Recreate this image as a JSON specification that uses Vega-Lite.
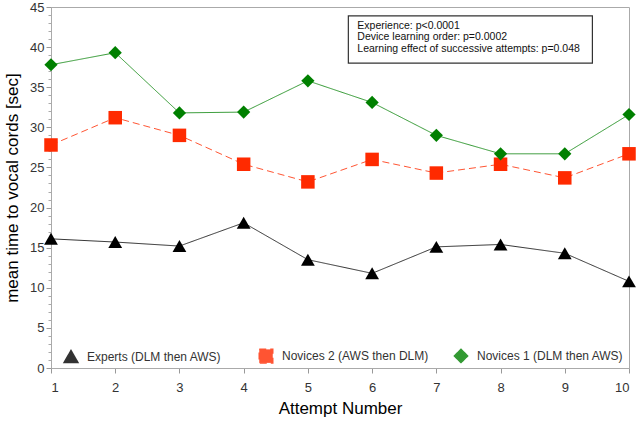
{
  "$schema": "https://vega.github.io/schema/vega-lite/v6.json",
  "autosize": "none",
  "width": 578,
  "height": 361,
  "padding": {"left": 51, "top": 7, "right": 9, "bottom": 56},
  "background": "white",
  "config": {
    "font": "Liberation Sans",
    "view": {"stroke": "#aaaaaa", "strokeWidth": 1}
  },
  "resolve": {"axis": {"y": "independent"}},
  "datasets": {
    "series": [
      {"attempt": 1, "group": "Experts (DLM then AWS)", "time": 16.1},
      {"attempt": 2, "group": "Experts (DLM then AWS)", "time": 15.7},
      {"attempt": 3, "group": "Experts (DLM then AWS)", "time": 15.2},
      {"attempt": 4, "group": "Experts (DLM then AWS)", "time": 18.1},
      {"attempt": 5, "group": "Experts (DLM then AWS)", "time": 13.5},
      {"attempt": 6, "group": "Experts (DLM then AWS)", "time": 11.8},
      {"attempt": 7, "group": "Experts (DLM then AWS)", "time": 15.1},
      {"attempt": 8, "group": "Experts (DLM then AWS)", "time": 15.4},
      {"attempt": 9, "group": "Experts (DLM then AWS)", "time": 14.3},
      {"attempt": 10, "group": "Experts (DLM then AWS)", "time": 10.8},
      {"attempt": 1, "group": "Novices 2 (AWS then DLM)", "time": 27.8},
      {"attempt": 2, "group": "Novices 2 (AWS then DLM)", "time": 31.2},
      {"attempt": 3, "group": "Novices 2 (AWS then DLM)", "time": 29.0},
      {"attempt": 4, "group": "Novices 2 (AWS then DLM)", "time": 25.4},
      {"attempt": 5, "group": "Novices 2 (AWS then DLM)", "time": 23.2},
      {"attempt": 6, "group": "Novices 2 (AWS then DLM)", "time": 26.0},
      {"attempt": 7, "group": "Novices 2 (AWS then DLM)", "time": 24.3},
      {"attempt": 8, "group": "Novices 2 (AWS then DLM)", "time": 25.4},
      {"attempt": 9, "group": "Novices 2 (AWS then DLM)", "time": 23.7},
      {"attempt": 10, "group": "Novices 2 (AWS then DLM)", "time": 26.7},
      {"attempt": 1, "group": "Novices 1 (DLM then AWS)", "time": 37.8},
      {"attempt": 2, "group": "Novices 1 (DLM then AWS)", "time": 39.3},
      {"attempt": 3, "group": "Novices 1 (DLM then AWS)", "time": 31.8},
      {"attempt": 4, "group": "Novices 1 (DLM then AWS)", "time": 31.9},
      {"attempt": 5, "group": "Novices 1 (DLM then AWS)", "time": 35.8},
      {"attempt": 6, "group": "Novices 1 (DLM then AWS)", "time": 33.1},
      {"attempt": 7, "group": "Novices 1 (DLM then AWS)", "time": 29.0},
      {"attempt": 8, "group": "Novices 1 (DLM then AWS)", "time": 26.7},
      {"attempt": 9, "group": "Novices 1 (DLM then AWS)", "time": 26.7},
      {"attempt": 10, "group": "Novices 1 (DLM then AWS)", "time": 31.6}
    ],
    "note": [
      {"text": "Experience: p<0.0001|Device learning order: p=0.0002|Learning effect of successive attempts: p=0.048"}
    ]
  },
  "layer": [
    {
      "data": {"values": [{}]},
      "mark": {"type": "rule", "opacity": 0},
      "encoding": {
        "y": {
          "datum": 0, "type": "quantitative",
          "axis": {
            "orient": "left", "title": null, "labels": false, "domain": false, "grid": false,
            "values": [0,1,2,3,4,5,6,7,8,9,10,11,12,13,14,15,16,17,18,19,20,21,22,23,24,25,26,27,28,29,30,31,32,33,34,35,36,37,38,39,40,41,42,43,44,45],
            "tickSize": 3, "tickColor": "#aaa"
          }
        }
      }
    },
    {
      "data": {"name": "series"},
      "mark": {"type": "line", "strokeWidth": 1, "opacity": 0.8},
      "encoding": {
        "x": {
          "field": "attempt", "type": "quantitative",
          "scale": {"domain": [1, 10], "nice": false, "zero": false},
          "axis": {
            "title": "Attempt Number", "titleFontSize": 17, "titleFontWeight": "normal", "titleColor": "#000",
            "titlePadding": 6,
            "values": [1, 2, 3, 4, 5, 6, 7, 8, 9, 10], "format": "d",
            "labelFontSize": 13, "labelColor": "#333", "labelPadding": 8,
            "tickSize": 5, "tickColor": "#999", "domainColor": "#aaa", "grid": false
          }
        },
        "y": {
          "field": "time", "type": "quantitative",
          "scale": {"domain": [0, 45], "nice": false},
          "axis": {
            "orient": "left",
            "title": "mean time to vocal cords [sec]", "titleFontSize": 17, "titleFontWeight": "normal", "titleColor": "#000",
            "titlePadding": 8,
            "values": [0, 5, 10, 15, 20, 25, 30, 35, 40, 45],
            "labelFontSize": 13, "labelColor": "#333", "labelPadding": 2,
            "tickSize": 5, "tickColor": "#999", "domainColor": "#aaa", "grid": false
          }
        },
        "color": {
          "field": "group", "type": "nominal",
          "scale": {
            "domain": ["Experts (DLM then AWS)", "Novices 2 (AWS then DLM)", "Novices 1 (DLM then AWS)"],
            "range": ["#000000", "#ff2a00", "#008000"]
          },
          "legend": {
            "title": null, "orient": "none", "legendX": 12, "legendY": 341,
            "direction": "horizontal", "columns": 3, "gridAlign": "all", "columnPadding": 22,
            "labelFontSize": 12, "labelColor": "#333", "labelOffset": 8, "symbolSize": 80
          }
        },
        "strokeDash": {
          "field": "group", "type": "nominal",
          "scale": {
            "domain": ["Experts (DLM then AWS)", "Novices 2 (AWS then DLM)", "Novices 1 (DLM then AWS)"],
            "range": [[1, 0], [7, 4], [1, 0]]
          },
          "legend": null
        }
      }
    },
    {
      "data": {"name": "series"},
      "mark": {"type": "point", "filled": true, "opacity": 1},
      "encoding": {
        "x": {"field": "attempt", "type": "quantitative"},
        "y": {"field": "time", "type": "quantitative", "axis": null},
        "color": {"field": "group", "type": "nominal"},
        "shape": {
          "field": "group", "type": "nominal",
          "scale": {
            "domain": ["Experts (DLM then AWS)", "Novices 2 (AWS then DLM)", "Novices 1 (DLM then AWS)"],
            "range": ["triangle-up", "square", "diamond"]
          },
          "legend": null
        },
        "size": {
          "field": "group", "type": "nominal",
          "scale": {
            "domain": ["Experts (DLM then AWS)", "Novices 2 (AWS then DLM)", "Novices 1 (DLM then AWS)"],
            "range": [190, 175, 150]
          },
          "legend": null
        }
      }
    },
    {
      "data": {"values": [{}]},
      "mark": {"type": "rect", "fill": "white", "stroke": "#333", "strokeWidth": 1.2},
      "encoding": {
        "x": {"datum": 5.63, "type": "quantitative"},
        "x2": {"datum": 9.43},
        "y": {"datum": 43.9, "type": "quantitative", "axis": null},
        "y2": {"datum": 38.0}
      }
    },
    {
      "data": {"name": "note"},
      "mark": {"type": "text", "align": "left", "baseline": "top", "fontSize": 10.5, "lineHeight": 11.5, "lineBreak": "|", "color": "#111"},
      "encoding": {
        "x": {"datum": 5.77, "type": "quantitative"},
        "y": {"datum": 43.3, "type": "quantitative", "axis": null},
        "text": {"field": "text", "type": "nominal"}
      }
    }
  ]
}
